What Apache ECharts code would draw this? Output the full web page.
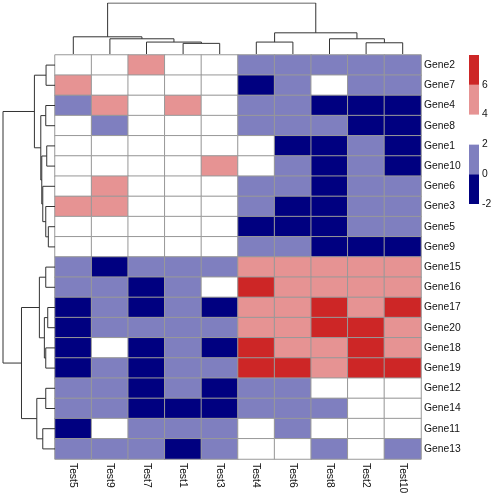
<!DOCTYPE html>
<html>
<head>
<meta charset="utf-8">
<script src="https://cdn.jsdelivr.net/npm/echarts@6/dist/echarts.min.js"></script>
<style>
  html, body { margin: 0; padding: 0; background: #fff; }
  #chart { width: 500px; height: 500px; }
</style>
</head>
<body>
<div id="chart"></div>
<script>
// columns and rows in the clustered display order
const samples = ['Test5', 'Test9', 'Test7', 'Test1', 'Test3', 'Test4', 'Test6', 'Test8', 'Test2', 'Test10'];
const genes = ['Gene2', 'Gene7', 'Gene4', 'Gene8', 'Gene1', 'Gene10', 'Gene6', 'Gene3', 'Gene5', 'Gene9',
  'Gene15', 'Gene16', 'Gene17', 'Gene20', 'Gene18', 'Gene19', 'Gene12', 'Gene14', 'Gene11', 'Gene13'];

// cell values, one row per gene
const values = [
  [3, 3, 5, 3, 3, 1, 1, 1, 1, 1],
  [5, 3, 3, 3, 3, -1, 1, 3, 1, 1],
  [1, 5, 3, 5, 3, 1, 1, -1, -1, -1],
  [3, 1, 3, 3, 3, 1, 1, 1, -1, -1],
  [3, 3, 3, 3, 3, 3, -1, -1, 1, -1],
  [3, 3, 3, 3, 5, 3, 1, -1, 1, -1],
  [3, 5, 3, 3, 3, 1, 1, -1, 1, 1],
  [5, 5, 3, 3, 3, 1, -1, -1, 1, 1],
  [3, 3, 3, 3, 3, -1, -1, -1, 1, 1],
  [3, 3, 3, 3, 3, 1, 1, -1, -1, -1],
  [1, -1, 1, 1, 1, 5, 5, 5, 5, 5],
  [1, 1, -1, 1, 3, 7, 5, 5, 5, 5],
  [-1, 1, -1, 1, -1, 5, 5, 7, 5, 7],
  [-1, 1, 1, 1, 1, 5, 5, 7, 7, 5],
  [-1, 3, -1, 1, -1, 7, 5, 5, 7, 5],
  [-1, 1, -1, 1, 1, 7, 7, 5, 7, 7],
  [1, 1, -1, 1, -1, 1, 1, 3, 3, 3],
  [1, 1, -1, -1, -1, 1, 1, 1, 3, 3],
  [-1, 3, 1, 1, 1, 3, 1, 3, 3, 3],
  [1, 1, 1, -1, 1, 3, 3, 1, 3, 1]
];

// colour breaks
const breaks = [-2, 0, 2, 4, 6, 8];
const colors = ['#000080', '#7F7FBF', '#FFFFFF', '#E69393', '#CD2626'];
const legendTicks = [-2, 0, 2, 4, 6];

// hclust style merges: negative = leaf (1-based display position), positive = earlier merge; third = height
const colMerge = [
  [-4, -5, 10.7], [-3, 1, 12], [-2, 2, 15.3], [-1, 3, 17.3],
  [-6, -7, 12], [-9, -10, 11.3], [-8, 6, 15.3], [5, 7, 21.3], [4, 8, 51.3]
];
const rowMerge = [
  [-1, -2, 9], [-3, -4, 9.3], [-5, -6, 8.3], [-9, -10, 6.7], [-8, 4, 9.3],
  [-7, 5, 12.3], [3, 6, 13.3], [2, 7, 14.3], [1, 8, 20.7],
  [-11, -12, 9.3], [-13, -14, 7.3], [-15, -16, 9.3], [11, 12, 10.7], [10, 13, 15.7],
  [-17, -18, 9.3], [-19, -20, 12.3], [15, 16, 18.3], [14, 17, 33.7], [9, 18, 52.3]
];

// turn merges into U shaped polylines: [pos, height] pairs
function dendroSegments(merge) {
  const pos = [], hgt = [];
  const segs = [];
  const get = (k) => k < 0 ? [-k - 0.5, 0] : [pos[k - 1], hgt[k - 1]];
  merge.forEach(m => {
    const a = get(m[0]), b = get(m[1]);
    segs.push([[a[0], a[1]], [a[0], m[2]], [b[0], m[2]], [b[0], b[1]]]);
    pos.push((a[0] + b[0]) / 2);
    hgt.push(m[2]);
  });
  return segs;
}

const cells = [];
values.forEach((row, r) => row.forEach((v, c) => cells.push([c, r, v])));

const colLines = dendroSegments(colMerge).map(s => ({coords: s}));
const rowLines = dendroSegments(rowMerge).map(s => ({coords: s.map(p => [p[1], p[0]])}));

const legendData = [];
for (let i = 0; i < colors.length; i++) {
  legendData.push([breaks[i], breaks[i + 1], i]);
}

const fontFamily = 'Liberation Sans, Arial, sans-serif';
const chart = echarts.init(document.getElementById('chart'), null, {renderer: 'canvas'});

let option = {
  backgroundColor: '#fff',
  animation: false,
  grid: [
    {left: 55, top: 55, width: 366, height: 404},   // heatmap
    {left: 55, top: 3, width: 366, height: 51},     // column tree
    {left: 3, top: 55, width: 52, height: 404},     // row tree
    {left: 469, top: 55, width: 10, height: 149}    // colour key
  ],
  xAxis: [
    {
      gridIndex: 0,
      type: 'category',
      data: samples,
      position: 'bottom',
      axisLine: {show: false},
      axisTick: {show: false},
      splitLine: {show: false},
      axisLabel: {rotate: -90, margin: 4, fontSize: 10.3, color: '#111', fontFamily: fontFamily}
    },
    {gridIndex: 1, type: 'value', min: 0, max: samples.length, show: false},
    {gridIndex: 2, type: 'value', min: 0, max: 52.3, inverse: true, show: false},
    {gridIndex: 3, type: 'value', min: 0, max: 1, show: false}
  ],
  yAxis: [
    {
      gridIndex: 0,
      type: 'category',
      data: genes,
      inverse: true,
      position: 'right',
      axisLine: {show: false},
      axisTick: {show: false},
      splitLine: {show: false},
      axisLabel: {margin: 3, fontSize: 10.3, color: '#111', fontFamily: fontFamily}
    },
    {gridIndex: 1, type: 'value', min: 0, max: 51.3, show: false},
    {gridIndex: 2, type: 'value', min: 0, max: genes.length, inverse: true, show: false},
    {
      gridIndex: 3,
      type: 'value',
      min: -2,
      max: 8,
      interval: 2,
      position: 'right',
      axisLine: {show: false},
      axisTick: {show: false},
      splitLine: {show: false},
      axisLabel: {
        margin: 3,
        fontSize: 10.3,
        color: '#111',
        fontFamily: fontFamily,
        formatter: v => legendTicks.indexOf(v) >= 0 ? String(v) : ''
      }
    }
  ],
  visualMap: {
    type: 'piecewise',
    show: false,
    seriesIndex: 0,
    pieces: colors.map((c, i) => ({gte: breaks[i], lt: breaks[i + 1], color: c}))
  },
  series: [
    {
      type: 'heatmap',
      xAxisIndex: 0,
      yAxisIndex: 0,
      data: cells,
      itemStyle: {borderColor: '#999999', borderWidth: 1},
      emphasis: {disabled: true}
    },
    {
      type: 'lines',
      coordinateSystem: 'cartesian2d',
      xAxisIndex: 1,
      yAxisIndex: 1,
      polyline: true,
      silent: true,
      data: colLines,
      lineStyle: {color: '#333', width: 1, opacity: 1}
    },
    {
      type: 'lines',
      coordinateSystem: 'cartesian2d',
      xAxisIndex: 2,
      yAxisIndex: 2,
      polyline: true,
      silent: true,
      data: rowLines,
      lineStyle: {color: '#333', width: 1, opacity: 1}
    },
    {
      type: 'custom',
      xAxisIndex: 3,
      yAxisIndex: 3,
      silent: true,
      data: legendData,
      renderItem: (params, api) => {
        const p0 = api.coord([0, api.value(1)]);
        const p1 = api.coord([1, api.value(0)]);
        return {
          type: 'rect',
          shape: {x: p0[0], y: p0[1], width: p1[0] - p0[0], height: p1[1] - p0[1]},
          style: {fill: colors[api.value(2)]}
        };
      }
    }
  ]
};
chart.setOption(option);
</script>
</body>
</html>
